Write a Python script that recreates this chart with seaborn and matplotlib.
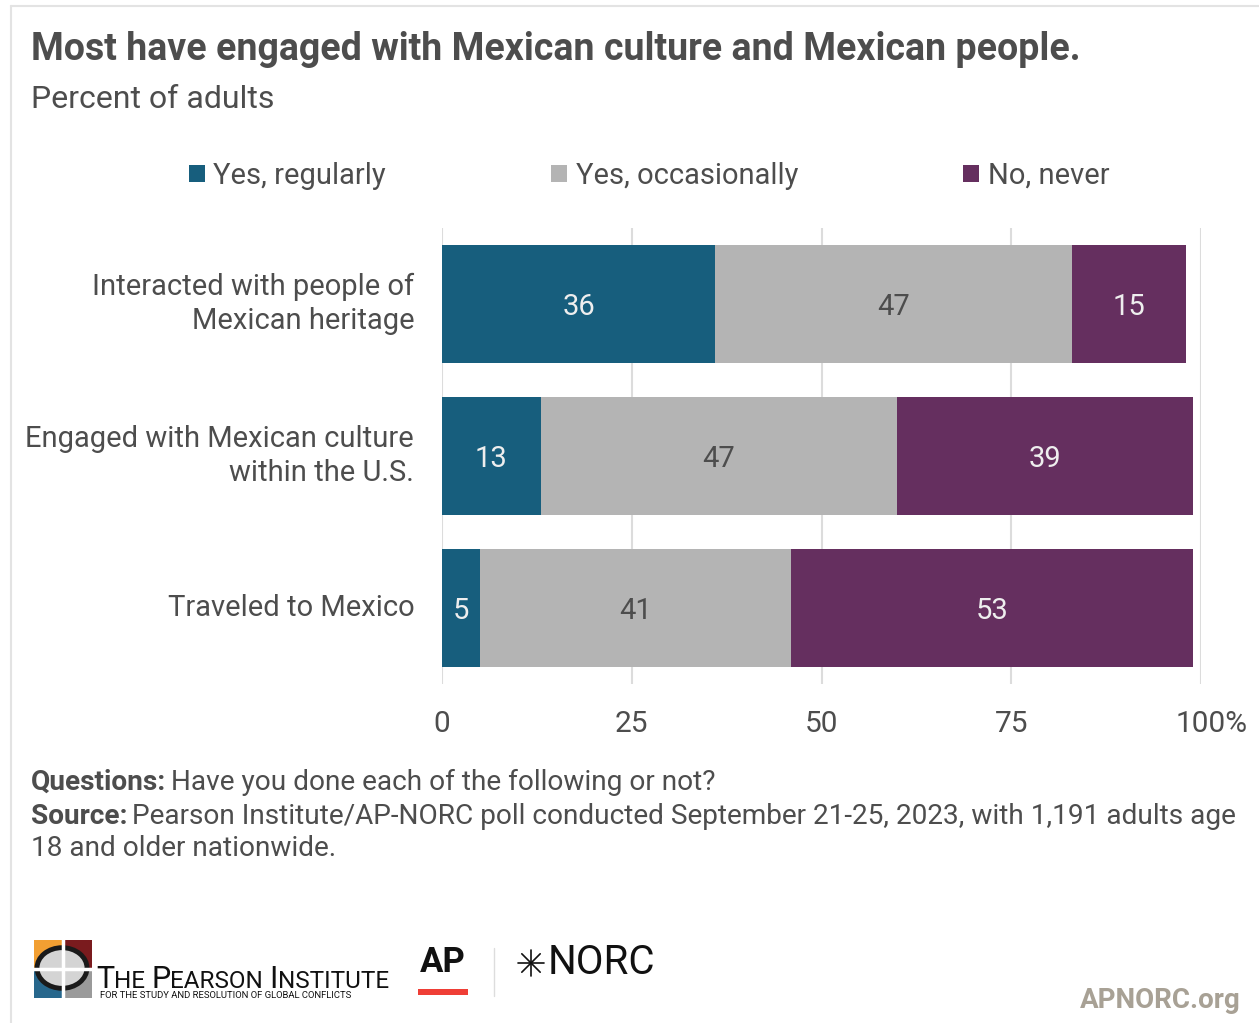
import numpy as np
import pandas as pd
import matplotlib
matplotlib.use("Agg")
import matplotlib.pyplot as plt
import matplotlib.transforms as mtransforms
import seaborn as sns
from matplotlib.patches import Patch, Rectangle, Circle
from matplotlib.lines import Line2D

# --- data ---
categories = ["Interacted with people of\nMexican heritage",
              "Engaged with Mexican culture\nwithin the U.S.",
              "Traveled to Mexico"]
series_names = ["Yes, regularly", "Yes, occasionally", "No, never"]
regularly = [36, 13, 5]
occasionally = [47, 47, 41]
never = [15, 39, 53]
x_ticks = [0, 25, 50, 75, 100]
x_tick_labels = ["0", "25", "50", "75", "100%"]

colors = ["#175e7d", "#b4b4b4", "#652f5f"]
label_colors = ["#eeeeee", "#4d4d4d", "#eeeeee"]
TXT = "#4d4d4d"

sns.set_theme(style="white")
plt.rcParams["font.family"] = ["Roboto", "DejaVu Sans"]

df = pd.DataFrame({"category": categories,
                   series_names[0]: regularly,
                   series_names[1]: occasionally,
                   series_names[2]: never})
vals = df[series_names].to_numpy()
cum = vals.cumsum(axis=1)

W, H = 1259, 1023
fig = plt.figure(figsize=(12.59, 10.23), dpi=100)
ax = fig.add_axes([442 / W, 1 - 684 / H, (1201 - 442) / W, (684 - 228) / H])

# stacked bars: draw cumulative totals, largest first
for i in range(2, -1, -1):
    d = pd.DataFrame({"category": categories, "value": cum[:, i]})
    sns.barplot(data=d, y="category", x="value", color=colors[i], width=0.77,
                saturation=1, orient="h", ax=ax, edgecolor="none")

# value labels
for r in range(len(categories)):
    left = 0
    for i in range(3):
        v = vals[r, i]
        ax.text(left + v / 2, r, str(v), ha="center", va="center_baseline",
                fontsize=21, color=label_colors[i])
        left += v

ax.set_xlim(0, 100)
ax.set_ylim(2.5, -0.5)
ax.set_xticks(x_ticks)
ax.set_xticklabels(x_tick_labels, fontsize=21.5, color=TXT)
ax.tick_params(axis="x", length=0, pad=19)
ax.tick_params(axis="y", length=0, pad=20)
ax.set_yticks(range(len(categories)))
ax.set_yticklabels(categories, fontsize=21, color=TXT, linespacing=1.28)
plt.setp(ax.get_yticklabels(), va="center")
# "100" centred on its tick, the % sign hanging to the right
last = ax.get_xticklabels()[-1]
last.set_transform(last.get_transform() + mtransforms.ScaledTranslation(11 / 100, 0, fig.dpi_scale_trans))
ax.set_xlabel("")
ax.set_ylabel("")
for s in ax.spines.values():
    s.set_visible(False)
ax.set_axisbelow(True)
for xv in x_ticks:
    ax.axvline(xv, color="#dcdcdc", linewidth=1.5, zorder=0)

# legend
handles = [Patch(facecolor=c, edgecolor="none") for c in colors]
fig.legend(handles, series_names, loc="center left", bbox_to_anchor=(174 / W, 1 - 176 / H),
           ncol=3, frameon=False, fontsize=21, handlelength=0.55, handleheight=0.55,
           handletextpad=0.3, columnspacing=5.65, labelcolor=TXT, borderpad=0)

# title block
fig.text(31 / W, 1 - 49 / H, "Most have engaged with Mexican culture and Mexican people.",
         fontsize=27, fontweight="bold", color=TXT, va="center")
fig.text(31 / W, 1 - 99 / H, "Percent of adults", fontsize=23, color=TXT, va="center")

# footer notes
fig.canvas.draw()
rend = fig.canvas.get_renderer()


def bold_then_regular(x, y, b, r):
    t = fig.text(x, y, b, fontsize=20.2, fontweight="bold", color=TXT, va="center")
    bb = t.get_window_extent(rend)
    fig.text(bb.x1 / W + 5 / W, y, r, fontsize=20.2, color=TXT, va="center")


bold_then_regular(31 / W, 1 - 782 / H, "Questions:", "Have you done each of the following or not?")
bold_then_regular(31 / W, 1 - 816 / H, "Source:",
                  "Pearson Institute/AP-NORC poll conducted September 21-25, 2023, with 1,191 adults age")
fig.text(31 / W, 1 - 849 / H, "18 and older nationwide.", fontsize=20.2, color=TXT, va="center")

# frame lines (left and top)
fig.add_artist(Line2D([11 / W, 11 / W], [0, 1 - 6 / H], color="#e3e3e3", linewidth=1.5))
fig.add_artist(Line2D([11 / W, 1], [1 - 6 / H, 1 - 6 / H], color="#e3e3e3", linewidth=1.5))

# logos (approximate)


def rect(x0, y0, w, h, c):
    fig.add_artist(Rectangle((x0 / W, 1 - (y0 + h) / H), w / W, h / H, facecolor=c,
                             edgecolor="none", transform=fig.transFigure))


rect(34, 940, 28, 28, "#f29f32")
rect(64, 940, 28, 28, "#7a1b1e")
rect(34, 970, 28, 28, "#27678c")
rect(64, 970, 28, 28, "#9a9a9a")
fig.add_artist(Circle((62 / W, 1 - 968 / H), 25 / W, transform=fig.transFigure,
                      facecolor="#d4d4d4", edgecolor="#1a1a1a", linewidth=3.5))
fig.add_artist(Line2D([30 / W, 94 / W], [1 - 969 / H, 1 - 969 / H], color="white", linewidth=2.5))
fig.add_artist(Line2D([63 / W, 63 / W], [1 - 938 / H, 1 - 1000 / H], color="white", linewidth=2.5))

# small caps "THE PEARSON INSTITUTE"
xpos = 96
for word in ["THE", "PEARSON", "INSTITUTE"]:
    t = fig.text(xpos / W, 1 - 988 / H, word[0], fontsize=22, color="#111111", va="baseline")
    xpos = t.get_window_extent(rend).x1
    t = fig.text(xpos / W, 1 - 988 / H, word[1:], fontsize=17.5, color="#111111", va="baseline")
    xpos = t.get_window_extent(rend).x1 + 6
fig.text(100 / W, 1 - 996 / H, "FOR THE STUDY AND RESOLUTION OF GLOBAL CONFLICTS",
         fontsize=6.8, color="#111111", va="center")
fig.text(443 / W, 1 - 963 / H, "AP", fontsize=25, fontweight="bold", color="#111111",
         ha="center", va="center")
rect(418, 989, 50, 6, "#ef3e36")
fig.add_artist(Line2D([494 / W, 494 / W], [1 - 948 / H, 1 - 996 / H], color="#dddddd", linewidth=1))
cx, cy = 531, 963
for ang in [0, 45, 90, 135]:
    a = np.deg2rad(ang)
    dx, dy = 13 * np.cos(a), 13 * np.sin(a)
    fig.add_artist(Line2D([(cx - dx) / W, (cx + dx) / W], [1 - (cy - dy) / H, 1 - (cy + dy) / H],
                          color="#111111", linewidth=1.2))
fig.text(548 / W, 1 - 963 / H, "NORC", fontsize=29, color="#111111", va="center")
fig.text(1241 / W, 1 - 1001 / H, "APNORC.org", fontsize=20, fontweight="bold",
         color="#a8a195", ha="right", va="center")

fig.savefig("out.png", dpi=100, facecolor="white")
